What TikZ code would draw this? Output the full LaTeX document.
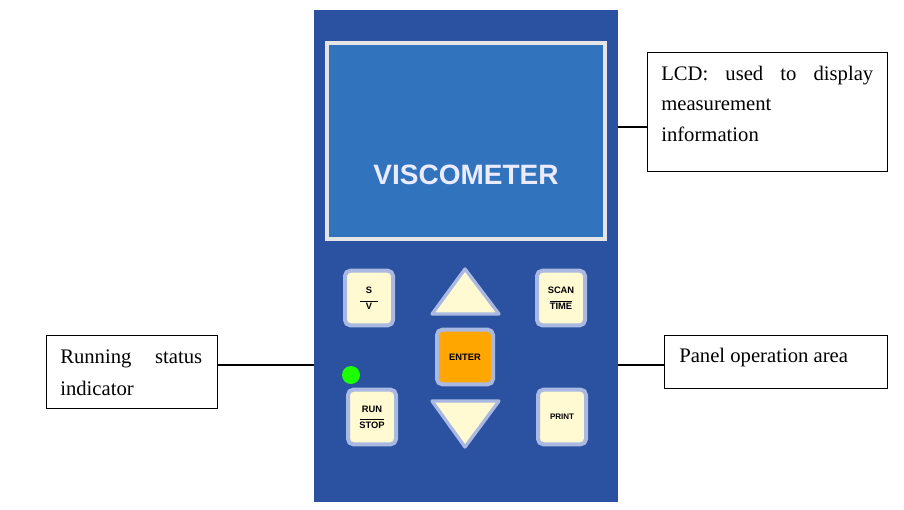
\documentclass[tikz,border=0pt]{standalone}
\usepackage{fontspec}
\setmainfont{Liberation Serif}
\newfontfamily\btn{Liberation Sans}
\begin{document}
\begin{tikzpicture}[x=0.75pt,y=-0.75pt,
  key/.style={draw=keyb,line width=3pt,fill=keyf,rounded corners=4pt,minimum width=36pt,minimum height=41pt,font=\btn\bfseries\fontsize{7}{7}\selectfont,align=center,inner sep=1pt},
  lab/.style={draw=black,line width=0.6pt,fill=white,inner sep=0pt,anchor=north west},
  txt/.style={anchor=west,font=\fontsize{15.5}{17}\selectfont,inner sep=0pt},
  conn/.style={line width=1.5pt}]
\definecolor{panel}{RGB}{43,82,160}
\definecolor{lcd}{RGB}{50,115,190}
\definecolor{keyb}{RGB}{170,185,225}
\definecolor{keyf}{RGB}{255,250,210}
\useasboundingbox (0,0) rectangle (904,510);
\fill[panel] (314,10) rectangle (618,502);
\draw[draw=white!80!gray,line width=2.5pt,fill=lcd] (327,43) rectangle (605,239);
\node[text=white!92!blue,font=\btn\bfseries\fontsize{21}{24}\selectfont] (vis) at (466,175) {VISCOMETER};
\node[key] (sv) at (369,298) {S\\[-1pt]\rule{14pt}{0.5pt}\\[-1pt]V};
\node[key] (scan) at (561,298) {SCAN\\[-1pt]\rule{16pt}{0.5pt}\\[-1pt]TIME};
\node[key,fill=orange!70!yellow,minimum width=42pt,minimum height=41pt] (enter) at (465,357) {ENTER};
\node[key] (run) at (372,417) {RUN\\[-1pt]\rule{18pt}{0.5pt}\\[-1pt]STOP};
\node[key,font=\btn\bfseries\fontsize{6}{6}\selectfont] (print) at (562,417) {PRINT};
\draw[fill=keyf,draw=keyb,line width=2.5pt,line join=round] (465,269) -- (499,314) -- (432,314) -- cycle;
\draw[fill=keyf,draw=keyb,line width=2.5pt,line join=round] (432,401) -- (499,401) -- (465,447) -- cycle;
\fill[green!85!lime] (351,375) circle (9);
\node[lab,minimum width=180pt,minimum height=89pt] (lcdbox) at (647,52) {};
\node[txt] at (661,76) {\makebox[159pt][s]{LCD: used to display}};
\node[txt] at (661,105) {measurement};
\node[txt] at (661,134) {information};
\node[lab,minimum width=128pt,minimum height=55pt] (runbox) at (46,335) {};
\node[txt] at (60,359) {\makebox[106.5pt][s]{Running status}};
\node[txt] at (60,388) {indicator};
\node[lab,minimum width=167pt,minimum height=40pt] (pbox) at (664,335) {};
\node[txt] at (679,358) {Panel operation area};
\draw[conn] (618,127) -- (lcdbox.west|-0,127);
\draw[conn] (runbox.east|-0,365) -- (314,365);
\draw[conn] (618,365) -- (pbox.west|-0,365);
\end{tikzpicture}
\end{document}
